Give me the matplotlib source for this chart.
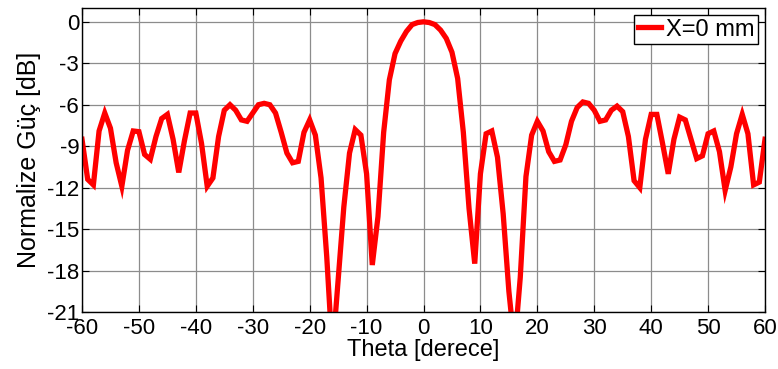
import matplotlib
matplotlib.use("Agg")
import matplotlib.pyplot as plt
import numpy as np

plt.rcParams['font.family'] = ['Liberation Sans', 'DejaVu Sans']
plt.rcParams['axes.unicode_minus'] = False

theta = list(range(-60, 61))
gain_db = [
    # -60 .. -41
    -8.5, -11.4, -11.8, -7.9, -6.6, -7.7, -10.2, -11.9, -9.3, -7.9,
    -7.95, -9.6, -9.95, -8.3, -7.0, -6.7, -8.5, -10.9, -8.6, -6.6,
    # -40 .. -21
    -6.6, -8.8, -11.9, -11.3, -8.3, -6.4, -6.0, -6.4, -7.1, -7.2,
    -6.6, -6.0, -5.9, -6.0, -6.6, -8.0, -9.5, -10.2, -10.1, -8.0,
    # -20 .. -1
    -7.1, -8.2, -11.3, -17.0, -24.0, -18.7, -13.4, -9.5, -7.8, -8.2,
    -11.0, -17.6, -14.1, -8.0, -4.2, -2.3, -1.4, -0.7, -0.2, -0.05,
    # 0
    0.0,
    # 1 .. 20
    -0.05, -0.2, -0.6, -1.2, -2.2, -4.1, -8.0, -13.5, -17.5, -11.0,
    -8.1, -7.9, -9.8, -13.9, -19.5, -23.5, -18.5, -11.2, -8.2, -7.2,
    # 21 .. 40
    -7.9, -9.4, -10.1, -10.0, -8.9, -7.2, -6.2, -5.8, -5.9, -6.4,
    -7.2, -7.1, -6.4, -6.1, -6.5, -8.3, -11.5, -12.0, -8.5, -6.7,
    # 41 .. 60
    -6.7, -8.8, -11.0, -8.5, -6.9, -7.1, -8.5, -9.9, -9.7, -8.1,
    -7.9, -9.4, -12.2, -10.5, -8.1, -6.7, -8.1, -11.8, -11.6, -8.5,
]

x_ticks = list(range(-60, 61, 10))
y_ticks = list(range(-21, 1, 3))
series_label = "X=0 mm"

fig = plt.figure(figsize=(7.78, 3.69), dpi=100)
ax = fig.add_axes([82/778, 1 - 312/369, (765 - 82)/778, (312 - 8)/369])

ax.plot(theta, gain_db, color='#ff0000', lw=3.8, label=series_label,
        solid_joinstyle='miter')

ax.set_xlim(-60, 60)
ax.set_ylim(-21, 1)
ax.set_xticks(x_ticks)
ax.set_yticks(y_ticks)
ax.set_xticklabels([str(v) for v in x_ticks])
ax.set_yticklabels([str(v) for v in y_ticks])
ax.tick_params(direction='in', top=True, right=True, labelsize=16,
               length=5, width=0.8, pad=2)
ax.tick_params(axis='x', pad=4)
ax.grid(True, color='#8c8c8c', lw=0.9, ls='-')
ax.set_axisbelow(True)
for s in ax.spines.values():
    s.set_linewidth(1.0)
    s.set_color('black')

ax.set_xlabel("Theta [derece]", fontsize=17, labelpad=0)
ax.set_ylabel("Normalize Güç [dB]", fontsize=18, labelpad=4)

leg = ax.legend(loc='upper right', fontsize=17, handlelength=1.0,
                handletextpad=0.2, borderpad=0.15, borderaxespad=0.3,
                fancybox=False, framealpha=1, edgecolor='black')
leg.get_frame().set_linewidth(1.0)

fig.savefig("out.png", dpi=100)
